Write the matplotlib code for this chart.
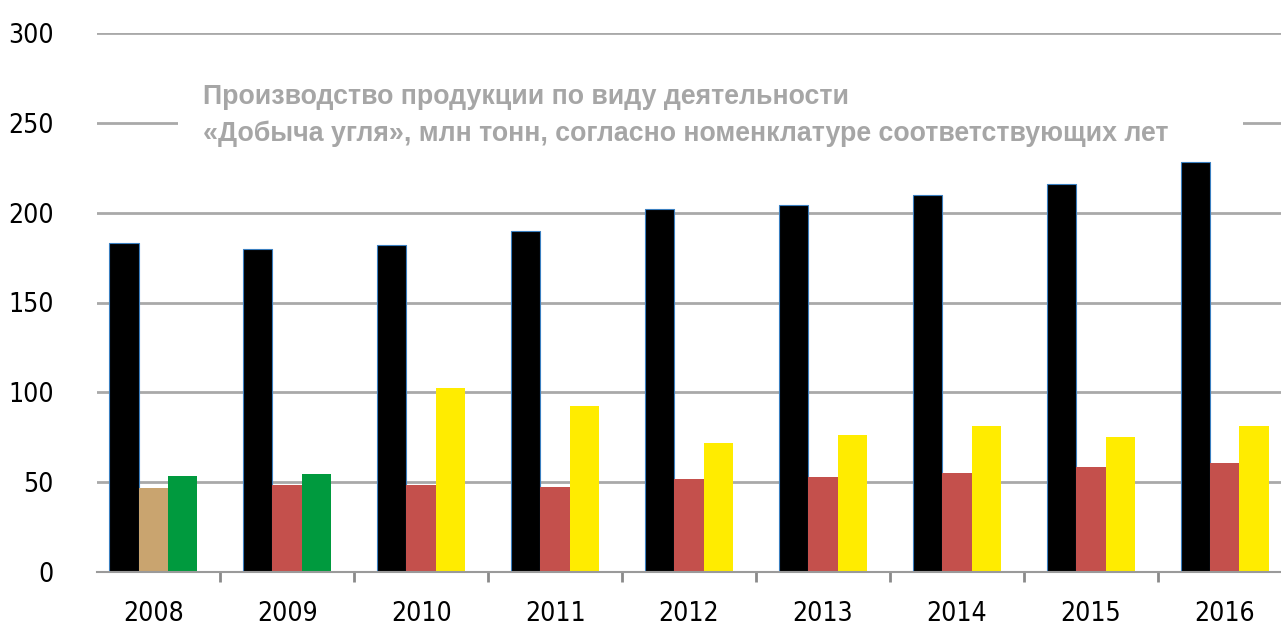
import numpy as np
import matplotlib.pyplot as plt
from matplotlib.patches import Rectangle

years = ["2008", "2009", "2010", "2011", "2012", "2013", "2014", "2015", "2016"]
total = [183, 180, 182, 190, 202, 204, 210, 216, 228]
second = [46.5, 48.5, 48.5, 47.5, 52, 53, 55, 58.5, 60.5]
third = [53.5, 54.5, 102.5, 92.5, 72, 76, 81.5, 75, 81]

second_colors = ["#c9a46f"] + ["#c4504c"] * 8
third_colors = ["#009a3e", "#009a3e"] + ["#ffec00"] * 7

title = ("Производство продукции по виду деятельности\n"
         "«Добыча угля», млн тонн, согласно номенклатуре соответствующих лет")

plt.rcParams["font.family"] = ["DejaVu Sans"]
plt.rcParams["font.stretch"] = "condensed"

fig = plt.figure(figsize=(12.81, 6.3), dpi=100)
ax = fig.add_axes([97 / 1281, 1 - 572 / 630, 1 - 97 / 1281, (572 - 33) / 630])

x = np.arange(len(years))
w = 0.22

ax.bar(x - w, total, w, color="black", edgecolor="#3a7fc0", linewidth=0.8, zorder=3)
ax.bar(x, second, w, color=second_colors, zorder=3)
ax.bar(x + w, third, w, color=third_colors, zorder=3)

ax.set_xlim(-0.42, len(years) - 1 + 0.42)
ax.set_ylim(0, 300)
ax.set_yticks(np.arange(0, 301, 50))
ax.yaxis.grid(True, color="#a9a9a9", linewidth=2, zorder=0)
ax.set_axisbelow(True)

for side in ["top", "right", "left"]:
    ax.spines[side].set_visible(False)
ax.spines["bottom"].set_color("#9a9a9a")
ax.spines["bottom"].set_linewidth(1.5)
ax.spines["bottom"].set_zorder(4)

ax.set_xticks(x)
ax.set_xticklabels(years)
ax.set_xticks(x[:-1] + 0.5, minor=True)
ax.tick_params(axis="x", which="major", length=0, pad=21, labelsize=19)
ax.tick_params(axis="x", which="minor", length=7, width=2, color="#8a8a8a", direction="out")
ax.tick_params(axis="y", length=0, pad=31, labelsize=19)

# white gap in the 250 gridline behind the caption
ax.add_patch(Rectangle((0.068, 0.78), 0.9, 0.2, transform=ax.transAxes,
                       facecolor="white", edgecolor="none", zorder=1))

ax.text(0.0895, 254.0, title, transform=ax.get_yaxis_transform(),
        fontsize=19.3, fontweight="bold", color="#a6a6a6",
        family=["Liberation Sans", "DejaVu Sans"], stretch="normal",
        ha="left", va="center", linespacing=1.52, zorder=5)

fig.savefig("out.png", dpi=100)
